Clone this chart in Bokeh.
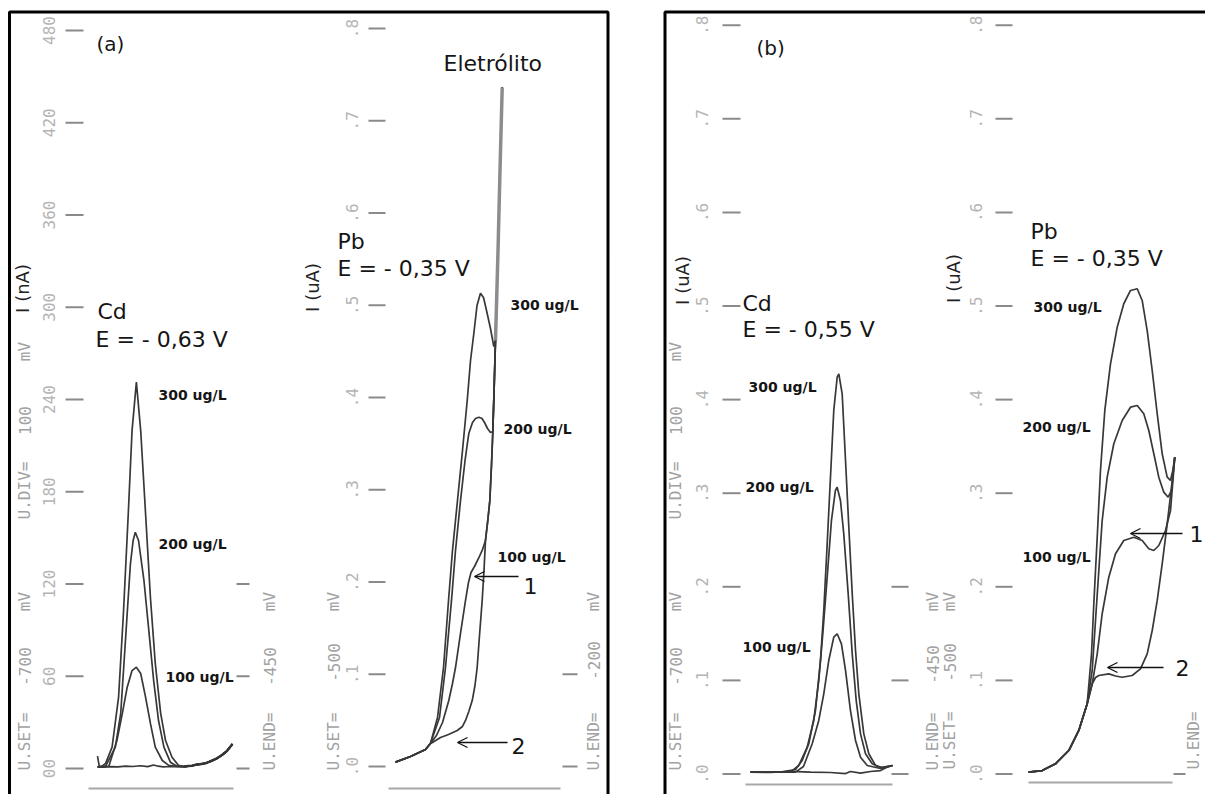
import math
from bokeh.plotting import figure
from bokeh.models import Range1d, BoxAnnotation, Arrow, OpenHead
from bokeh.core.properties import value
from bokeh.embed import file_html
from bokeh.resources import INLINE

# ====================== DATA ======================
# ---- Panel (a), Cd : potential (mV) vs current (nA)
cd_a_tick_values = [0, 60, 120, 180, 240, 300, 360, 420, 480]
cd_a_tick_labels = ["00", "60", "120", "180", "240", "300", "360", "420", "480"]
cd_a_right_ticks = [0, 60, 120]

cd_a_300_mv = [-700, -697, -694, -685, -673, -661, -652, -643, -636, -628, -620, -611, -602, -593, -583, -574, -562, -550]
cd_a_300_na = [8.0, 2.0, 0.9, 3.3, 13.9, 46.2, 100.8, 165.9, 219.8, 251.3, 219.8, 165.9, 111.2, 68.3, 35.8, 18.2, 7.3, 2.0]
cd_a_200_mv = [-700, -685, -667, -657, -651, -645, -639, -634, -630, -624, -614, -605, -596, -587, -577, -565, -553]
cd_a_200_na = [1.0, 1.5, 13.9, 35.8, 68.3, 100.8, 133.3, 148.3, 153.7, 148.3, 122.3, 89.8, 57.2, 31.2, 13.9, 4.1, 1.5]
cd_a_100_mv = [-700, -679, -664, -654, -645, -636, -628, -620, -611, -602, -593, -580, -568, -553]
cd_a_100_na = [1.0, 1.5, 18.2, 35.8, 52.9, 63.7, 65.9, 61.8, 46.4, 29.3, 13.9, 5.2, 2.0, 1.3]
cd_a_blank_mv = [-700, -688, -675, -662, -648, -635, -620, -607, -596, -588, -578, -565, -553]
cd_a_blank_na = [1.0, 0.8, 1.2, 1.0, 1.6, 1.3, 1.8, 1.2, 2.3, 1.5, 1.1, 1.3, 1.2]
cd_a_tail_mv = [-540, -532, -525, -517, -510, -500, -490, -480, -470, -460, -450]
cd_a_tail_na = [1.2, 1.6, 1.8, 2.5, 2.8, 3.4, 4.8, 6.4, 8.6, 11.5, 16.0]

# ---- Panel (a), Pb : potential (mV) vs current (uA)
pb_a_tick_values = [0.0, 0.1, 0.2, 0.3, 0.4, 0.5, 0.6, 0.7, 0.8]
pb_a_tick_labels = [".0", ".1", ".2", ".3", ".4", ".5", ".6", ".7", ".8"]
pb_a_right_ticks = [0.0, 0.1]

pb_a_start_mv = [-500, -472.7, -445.5, -436.4]
pb_a_start_ua = [0.0047, 0.0108, 0.0184, 0.0249]
pb_a_rise_mv = [-336.4, -332.2, -328.5, -325.5, -323.1, -321.3, -318.2, -313.6, -310.0, -306.0]
pb_a_rise_ua = [0.245, 0.2667, 0.2883, 0.3263, 0.3621, 0.3967, 0.4618, 0.5593, 0.6461, 0.736]
pb_a_blank_mv = [-432.7, -418.2, -403.6, -387.8, -378.2, -372.7, -366.7, -360.5, -355.5, -351.5, -347.0, -342.4, -339.1]
pb_a_blank_ua = [0.026, 0.0314, 0.0347, 0.039, 0.0434, 0.0499, 0.0596, 0.0715, 0.0878, 0.1073, 0.1442, 0.18, 0.2125]
pb_a_300_mv = [-423.6, -412.7, -403.6, -396.4, -387.3, -378.2, -369.6, -363.6, -357.6, -351.8, -345.5, -340.0, -334.5, -327.3, -321.3]
pb_a_300_ua = [0.0531, 0.1073, 0.18, 0.2341, 0.2883, 0.3425, 0.3967, 0.4401, 0.4694, 0.4997, 0.5131, 0.5084, 0.4943, 0.4748, 0.4553]
pb_a_200_mv = [-420.0, -409.1, -398.2, -390.9, -381.8, -373.6, -366.7, -360.0, -354.5, -348.5, -342.7, -338.2, -332.7, -327.3, -323.1]
pb_a_200_ua = [0.0531, 0.1073, 0.18, 0.2341, 0.2883, 0.3317, 0.361, 0.3729, 0.3772, 0.3786, 0.3772, 0.3729, 0.3664, 0.3621, 0.3631]
pb_a_100_mv = [-425.5, -414.5, -403.1, -396.4, -390.9, -381.8, -372.7, -367.3, -362.7, -356.4, -349.1, -341.8]
pb_a_100_ua = [0.0336, 0.0477, 0.0715, 0.09, 0.1073, 0.1442, 0.18, 0.1995, 0.2103, 0.2168, 0.2255, 0.2352]

# ---- Panel (b), Cd : potential (mV) vs current (uA)
cd_b_tick_values = [0.0, 0.1, 0.2, 0.3, 0.4, 0.5, 0.6, 0.7, 0.8]
cd_b_tick_labels = [".0", ".1", ".2", ".3", ".4", ".5", ".6", ".7", ".8"]
cd_b_right_ticks = [0.0, 0.1, 0.2]

cd_b_300_mv = [-700, -647.2, -620.8, -609.0, -597.4, -585.6, -576.8, -571.0, -565.0, -559.2, -553.4, -547.4, -544.5, -538.6, -532.7, -526.9, -520.9, -515.1, -509.3, -500.5, -491.7, -479.9, -468.1, -450]
cd_b_300_ua = [0.002, 0.002, 0.0048, 0.0144, 0.0323, 0.0678, 0.1213, 0.1747, 0.2459, 0.3171, 0.3884, 0.4239, 0.4276, 0.4062, 0.3349, 0.2637, 0.1925, 0.1319, 0.0857, 0.0429, 0.0216, 0.0091, 0.0069, 0.0091]
cd_b_200_mv = [-700, -629.6, -615.0, -600.2, -588.6, -579.8, -572.7, -565.0, -557.5, -550.5, -547.4, -541.6, -535.8, -528.0, -520.9, -513.9, -506.3, -497.5, -485.7, -471.1, -450]
cd_b_200_ua = [0.002, 0.002, 0.0091, 0.0286, 0.0572, 0.0999, 0.1498, 0.2103, 0.2708, 0.3029, 0.3064, 0.2922, 0.2566, 0.1925, 0.1284, 0.0785, 0.0429, 0.0216, 0.0109, 0.0069, 0.0091]
cd_b_100_mv = [-700, -620.8, -606.7, -591.4, -579.8, -571.0, -562.2, -553.4, -547.4, -539.9, -532.7, -524.0, -515.1, -506.3, -494.5, -471.1, -450]
cd_b_100_ua = [0.002, 0.002, 0.008, 0.0323, 0.0572, 0.0857, 0.1213, 0.1462, 0.1498, 0.1391, 0.1106, 0.0678, 0.0358, 0.0179, 0.0091, 0.0059, 0.0091]
cd_b_blank_mv = [-700, -664.8, -629.6, -594.4, -559.2, -532.7, -523.9, -506.3, -488.7, -471.1, -460.6, -450]
cd_b_blank_ua = [0.002, 0.0016, 0.0027, 0.0021, 0.0016, 0.0005, 0.0027, 0.001, 0.0027, 0.0037, 0.0069, 0.0091]

# ---- Panel (b), Pb : potential (mV) vs current (uA)
pb_b_tick_values = [0.0, 0.1, 0.2, 0.3, 0.4, 0.5, 0.6, 0.7, 0.8]
pb_b_tick_labels = [".0", ".1", ".2", ".3", ".4", ".5", ".6", ".7", ".8"]
pb_b_right_ticks = [0.0]

pb_b_start_mv = [-500, -471.8, -444.5, -417.2, -396.6, -379.4]
pb_b_start_ua = [0.002, 0.0037, 0.0109, 0.0251, 0.0465, 0.075]
pb_b_blank_mv = [-369.1, -362.3, -355.5, -335.0, -321.2, -307.5, -287.0, -269.9, -256.1, -245.8, -235.5, -225.3, -215.0, -206.2, -199.4]
pb_b_blank_ua = [0.0964, 0.1031, 0.1052, 0.107, 0.1047, 0.1034, 0.1052, 0.1124, 0.1284, 0.1533, 0.1854, 0.2246, 0.2673, 0.3064, 0.3385]
pb_b_100_mv = [-369.1, -358.8, -348.6, -335.0, -321.2, -304.2, -283.6, -266.4, -252.8, -242.5, -232.3, -218.5, -208.2, -199.4]
pb_b_100_ua = [0.0964, 0.1284, 0.1712, 0.2103, 0.2353, 0.2495, 0.253, 0.2495, 0.2406, 0.2388, 0.2441, 0.2601, 0.2815, 0.3385]
pb_b_200_mv = [-369.1, -362.3, -355.5, -348.6, -338.3, -324.7, -307.5, -290.4, -276.6, -263.1, -252.8, -242.5, -232.3, -222.0, -213.0, -206.2, -199.4]
pb_b_200_ua = [0.1106, 0.164, 0.2174, 0.2708, 0.3171, 0.3528, 0.3777, 0.3919, 0.3937, 0.3848, 0.367, 0.3421, 0.3171, 0.3011, 0.2957, 0.3029, 0.3385]
pb_b_300_mv = [-370.5, -365.8, -358.8, -352.1, -343.2, -331.5, -317.7, -304.2, -290.4, -276.6, -266.4, -256.1, -245.8, -235.5, -225.3, -215.0, -208.2, -203.5, -199.4]
pb_b_300_ua = [0.1284, 0.1818, 0.253, 0.3243, 0.3884, 0.4382, 0.4774, 0.5024, 0.5166, 0.5184, 0.5059, 0.4738, 0.4311, 0.3848, 0.3421, 0.3171, 0.3136, 0.3243, 0.3385]

# ====================== LAYOUT ======================
W, H = 1205, 794
X0, Y0 = 0, 0   # Bokeh's page template has no body margin

# calibration of each sub-plot: (value0, pixel0, value1, pixel1) for x and y
CAL = {
    "a1": ((-700, 97, -450, 232), (0, 768, 60, 675.75)),
    "a2": ((-500, 395, -200, 560), (0, 766, 0.1, 673.75)),
    "b1": ((-700, 750, -450, 892), (0, 773.5, 0.1, 679.9)),
    "b2": ((-500, 1028, -200, 1174), (0, 773.5, 0.1, 679.9)),
}


def lin(c, px):
    d0, p0, d1, p1 = c
    return d0 + (px - p0) * (d1 - d0) / (p1 - p0)


def XD(sub, px):
    return lin(CAL[sub][0], px)


def YD(sub, py):
    return lin(CAL[sub][1], py)


p = figure(width=W, height=H, x_range=Range1d(X0, X0 + W), y_range=Range1d(Y0 + H, Y0),
           x_axis_type=None, y_axis_type=None, toolbar_location=None,
           output_backend="svg", min_border=0, outline_line_color=None,
           background_fill_color="white", border_fill_color="white")
p.extra_x_ranges = {k: Range1d(lin(cx, X0), lin(cx, X0 + W)) for k, (cx, cy) in CAL.items()}
p.extra_y_ranges = {k: Range1d(lin(cy, Y0 + H), lin(cy, Y0)) for k, (cx, cy) in CAL.items()}

CURVE = "#383838"
TICK = "#8a8a8a"
LBL = "#b4b4b4"
INSTR = "#a2a2a2"
MONO = "DejaVu Sans Mono"
SANS = "DejaVu Sans"

# panel frames
for l, r in [(9, 607.5), (664.5, 1400)]:
    p.add_layout(BoxAnnotation(left=l, right=r, top=11.5, bottom=1200, fill_alpha=0,
                               line_color="black", line_alpha=1.0, line_width=3))


def curve(sub, xs, ys, width=1.7, color=CURVE):
    p.line(xs, ys, x_range_name=sub, y_range_name=sub, line_color=color, line_width=width)


def ptxt(x, y, s, size, color="#151515", font=SANS, angle=0.0, align="left",
         baseline="middle", style="normal"):
    p.text(x=[x], y=[y], text=[s], angle=angle, text_font=value(font),
           text_font_size=f"{size}px", text_color=color, text_align=align,
           text_baseline=baseline, text_font_style=style)


def axis_ticks(sub, vals, labels, px_a, px_b, lbl_px, right_vals, rpx_a, rpx_b):
    n = len(vals)
    p.segment(x0=[XD(sub, px_a)] * n, x1=[XD(sub, px_b)] * n, y0=vals, y1=vals,
              x_range_name=sub, y_range_name=sub, line_color=TICK, line_width=2)
    m = len(right_vals)
    p.segment(x0=[XD(sub, rpx_a)] * m, x1=[XD(sub, rpx_b)] * m, y0=right_vals, y1=right_vals,
              x_range_name=sub, y_range_name=sub, line_color=TICK, line_width=2)
    p.text(x=[XD(sub, lbl_px)] * n, y=vals, text=labels, angle=math.pi / 2,
           x_range_name=sub, y_range_name=sub, text_font=value(MONO),
           text_font_size="16px", text_color=LBL, text_align="center",
           text_baseline="middle")


def baseline(sub, px_a, px_b, py):
    p.segment(x0=[XD(sub, px_a)], x1=[XD(sub, px_b)], y0=[YD(sub, py)], y1=[YD(sub, py)],
              x_range_name=sub, y_range_name=sub, line_color="#a8a8a8", line_width=2)


def instr(x, pieces):
    for s, y in pieces:
        ptxt(x, y, s, 16, color=INSTR, font=MONO, angle=math.pi / 2, align="center")


def arrow(sub, x_tail, x_tip, yv):
    p.add_layout(Arrow(end=OpenHead(size=10, line_width=1.3, line_color="#111111"),
                       x_start=x_tail, y_start=yv, x_end=x_tip, y_end=yv,
                       x_range_name=sub, y_range_name=sub,
                       line_color="#111111", line_width=1.3))


# ---------------- Panel (a) ----------------
axis_ticks("a1", cd_a_tick_values, cd_a_tick_labels, 65, 83, 48, cd_a_right_ticks, 236, 249)
baseline("a1", 88, 233, 788)
curve("a1", cd_a_blank_mv + cd_a_tail_mv, cd_a_blank_na + cd_a_tail_na)
curve("a1", cd_a_100_mv + cd_a_tail_mv, cd_a_100_na + cd_a_tail_na)
curve("a1", cd_a_200_mv + cd_a_tail_mv, cd_a_200_na + cd_a_tail_na)
curve("a1", cd_a_300_mv + cd_a_tail_mv, cd_a_300_na + cd_a_tail_na)
curve("a1", cd_a_tail_mv, cd_a_tail_na, width=2.4, color="#333333")

axis_ticks("a2", pb_a_tick_values, pb_a_tick_labels, 368, 385, 351, pb_a_right_ticks, 562, 577)
baseline("a2", 388, 560, 788)
curve("a2", pb_a_start_mv + pb_a_blank_mv + pb_a_rise_mv, pb_a_start_ua + pb_a_blank_ua + pb_a_rise_ua)
curve("a2", pb_a_start_mv + pb_a_100_mv + pb_a_rise_mv, pb_a_start_ua + pb_a_100_ua + pb_a_rise_ua)
curve("a2", pb_a_start_mv + pb_a_200_mv + pb_a_rise_mv[5:], pb_a_start_ua + pb_a_200_ua + pb_a_rise_ua[5:])
curve("a2", pb_a_start_mv + pb_a_300_mv + pb_a_rise_mv[6:], pb_a_start_ua + pb_a_300_ua + pb_a_rise_ua[6:])
curve("a2", pb_a_rise_mv[6:], pb_a_rise_ua[6:], width=3.5, color="#8c8c8c")

instr(24, [("U.SET=", 741), ("-700", 666), ("mV", 601), ("U.DIV=", 490), ("100", 420), ("mV", 351)])
instr(269, [("U.END=", 741), ("-450", 666), ("mV", 601)])
instr(333, [("U.SET=", 741), ("-500", 662), ("mV", 601)])
instr(593, [("U.END=", 741), ("-200", 660), ("mV", 601)])

ptxt(22, 288, "I (nA)", 18, color="#222222", angle=math.pi / 2, align="center")
ptxt(312, 287, "I (uA)", 18, color="#222222", angle=math.pi / 2, align="center")

ptxt(96, 43, "(a)", 20)
ptxt(97, 311, "Cd", 22)
ptxt(95, 339, "E = - 0,63 V", 22)
ptxt(158, 394, "300 ug/L", 14, style="bold")
ptxt(158, 543, "200 ug/L", 14, style="bold")
ptxt(165, 676, "100 ug/L", 14, style="bold")

ptxt(443, 63, "Eletrólito", 22)
ptxt(337, 241, "Pb", 22)
ptxt(337, 268, "E = - 0,35 V", 22)
ptxt(510, 304, "300 ug/L", 14, style="bold")
ptxt(503, 428, "200 ug/L", 14, style="bold")
ptxt(497, 556, "100 ug/L", 14, style="bold")
arrow("a2", XD("a2", 518), XD("a2", 474), YD("a2", 576))
arrow("a2", XD("a2", 507), XD("a2", 457), YD("a2", 742))
ptxt(530, 585, "1", 22, align="center")
ptxt(518, 745, "2", 22, align="center")

# ---------------- Panel (b) ----------------
axis_ticks("b1", cd_b_tick_values, cd_b_tick_labels, 722, 740, 701, cd_b_right_ticks, 891, 908)
baseline("b1", 745, 892, 784)
curve("b1", cd_b_blank_mv, cd_b_blank_ua)
curve("b1", cd_b_100_mv, cd_b_100_ua)
curve("b1", cd_b_200_mv, cd_b_200_ua)
curve("b1", cd_b_300_mv, cd_b_300_ua)

axis_ticks("b2", pb_b_tick_values, pb_b_tick_labels, 995, 1012, 975, pb_b_right_ticks, 1173, 1185)
baseline("b2", 1028, 1172, 782)
curve("b2", pb_b_start_mv + pb_b_blank_mv, pb_b_start_ua + pb_b_blank_ua)
curve("b2", pb_b_start_mv + pb_b_100_mv, pb_b_start_ua + pb_b_100_ua)
curve("b2", pb_b_start_mv + pb_b_200_mv, pb_b_start_ua + pb_b_200_ua)
curve("b2", pb_b_start_mv + pb_b_300_mv, pb_b_start_ua + pb_b_300_ua)

instr(675, [("U.SET=", 741), ("-700", 666), ("mV", 601), ("U.DIV=", 490), ("100", 420), ("mV", 351)])
instr(932, [("U.END=", 741), ("-450", 664), ("mV", 601)])
instr(949, [("U.SET=", 740), ("-500", 662), ("mV", 601)])
instr(1193, [("U.END=", 740)])

ptxt(682, 280, "I (uA)", 18, color="#222222", angle=math.pi / 2, align="center")
ptxt(953, 278, "I (uA)", 18, color="#222222", angle=math.pi / 2, align="center")

ptxt(756, 47, "(b)", 20)
ptxt(742, 303, "Cd", 22)
ptxt(742, 329, "E = - 0,55 V", 22)
ptxt(748, 386, "300 ug/L", 14, style="bold")
ptxt(745, 486, "200 ug/L", 14, style="bold")
ptxt(742, 646, "100 ug/L", 14, style="bold")

ptxt(1030, 231, "Pb", 22)
ptxt(1030, 258, "E = - 0,35 V", 22)
ptxt(1033, 306, "300 ug/L", 14, style="bold")
ptxt(1022, 426, "200 ug/L", 14, style="bold")
ptxt(1022, 556, "100 ug/L", 14, style="bold")
arrow("b2", XD("b2", 1182), XD("b2", 1130), YD("b2", 533))
arrow("b2", XD("b2", 1163), XD("b2", 1107), YD("b2", 667))
ptxt(1196, 533, "1", 22, align="center")
ptxt(1182, 667, "2", 22, align="center")

open("out.html", "w").write(file_html(p, INLINE))
